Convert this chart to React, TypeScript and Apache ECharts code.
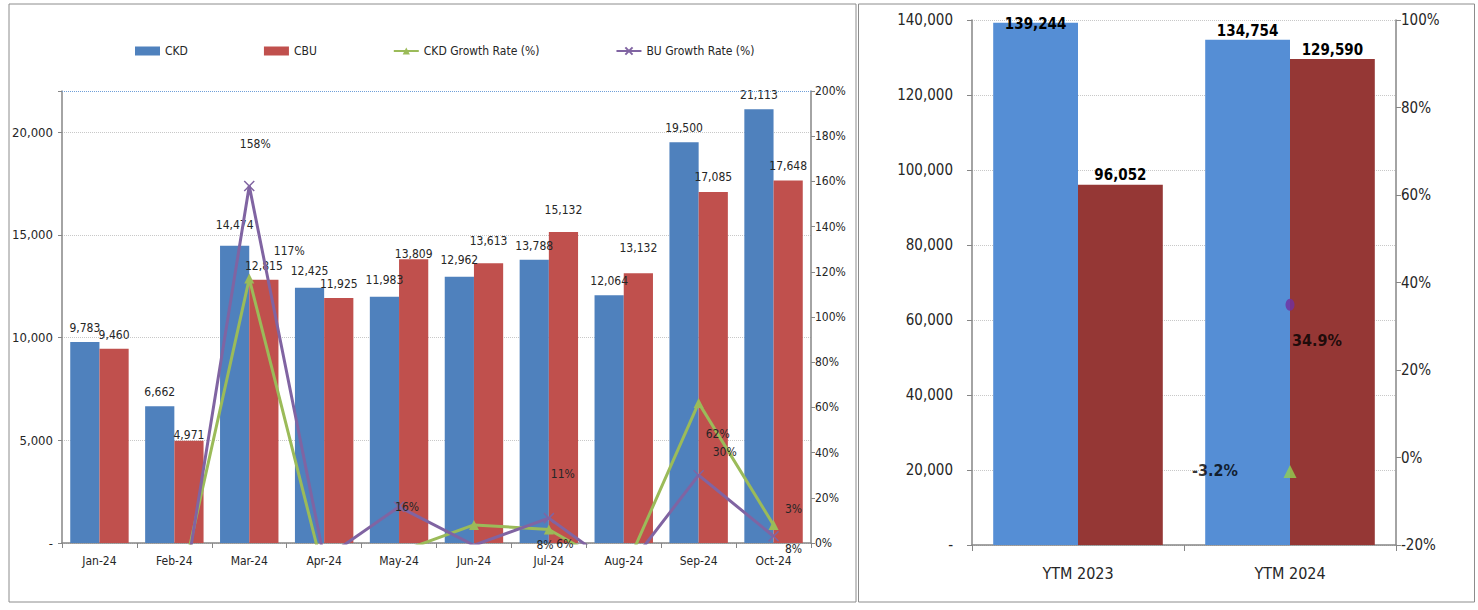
import React, { useEffect, useRef } from "react";
import * as echarts from "echarts";

const months = ["Jan-24", "Feb-24", "Mar-24", "Apr-24", "May-24", "Jun-24", "Jul-24", "Aug-24", "Sep-24", "Oct-24"];
const ckd = [9783, 6662, 14474, 12425, 11983, 12962, 13788, 12064, 19500, 21113];
const cbu = [9460, 4971, 12815, 11925, 13809, 13613, 15132, 13132, 17085, 17648];
const ckdGrowth: (number | null)[] = [null, -32, 117, -14, -4, 8, 6, -13, 62, 8];
const buGrowth: (number | null)[] = [null, -47, 158, -7, 16, -1, 11, -13, 30, 3];

const ytmCats = ["YTM 2023", "YTM 2024"];
const ytmCkd = [139244, 134754];
const ytmCbu = [96052, 129590];
const ytmCkdGrowth: (number | null)[] = [null, -3.2];
const ytmBuGrowth: (number | null)[] = [null, 34.9];

const leftTicks = { min: 0, max: 22000, interval: 5000 };
const pctTicks = { min: 0, max: 200, interval: 20 };
const ytmTicks = { min: 0, max: 140000, interval: 20000 };
const ytmPctTicks = { min: -20, max: 100, interval: 20 };

// label placement nudges (styling, not data)
const ckdLift = [0, 0, -7, -3, -3, -3, 0, 0, 0, 0];
const cbuLift = [0, 8, 0, 0, 9, -8, -8, -11, -1, 0];
const ckdGrowthLabelOffset: ([number, number] | null)[] = [null, null, [40, -28], null, null, [71, 20], [16, 15], null, [19, 31], [20, 24]];
const buGrowthLabelOffset: ([number, number] | null)[] = [null, null, [6, -42], null, [8, 0], null, [14, -44], null, [26, -23], [20, -27]];

const FONT = "'Liberation Sans Narrow', 'DejaVu Sans Condensed', 'Arial Narrow', sans-serif";
const TXT = "#262626";
const AX = "#868686";

const fmt = (v: number) => v.toLocaleString("en-US");

export default function App() {
  const ref = useRef<HTMLDivElement>(null);
  useEffect(() => {
    if (!ref.current) return;
    const chart = echarts.init(ref.current, null, { renderer: "svg" });

    const barLabel = (lifts: number[]) => (v: number, i: number) => ({
      value: v,
      label: { offset: [0, lifts[i]] },
    });

    const growthData = (vals: (number | null)[], offs: ([number, number] | null)[]) =>
      vals.map((v, i) => ({
        value: v === null ? "-" : v,
        label: offs[i] ? { show: true, offset: offs[i] } : { show: false },
      }));

    const option: any = {
      animation: false,
      backgroundColor: "#fff",
      textStyle: { fontFamily: FONT },
      graphic: [
        { type: "rect", shape: { x: 9, y: 4, width: 847, height: 598 }, style: { fill: "none", stroke: "#8c8c8c", lineWidth: 1 }, silent: true },
        { type: "rect", shape: { x: 858.5, y: 4, width: 616, height: 598 }, style: { fill: "none", stroke: "#8c8c8c", lineWidth: 1 }, silent: true },
      ],
      legend: {
        left: 135,
        top: 45,
        padding: 0,
        itemWidth: 25,
        itemHeight: 9,
        itemGap: 76,
        textStyle: { fontFamily: FONT, fontSize: 12, color: TXT },
        data: [
          { name: "CKD", icon: "rect" },
          { name: "CBU", icon: "rect" },
          { name: "CKD Growth Rate (%)" },
          { name: "BU Growth Rate (%)" },
        ],
      },
      grid: [
        { left: 62, top: 91, width: 749, height: 452 },
        { left: 972, top: 20, width: 424, height: 525 },
      ],
      xAxis: [
        {
          type: "category",
          gridIndex: 0,
          data: months,
          axisLine: { lineStyle: { color: AX, width: 1.5 } },
          axisTick: { show: true, length: 5, lineStyle: { color: AX } },
          axisLabel: { color: TXT, fontSize: 12, margin: 12, fontFamily: FONT },
        },
        {
          type: "category",
          gridIndex: 1,
          data: ytmCats,
          axisLine: { lineStyle: { color: AX, width: 1.5 } },
          axisTick: { show: true, length: 6, lineStyle: { color: AX } },
          axisLabel: { color: TXT, fontSize: 16, margin: 20, fontFamily: FONT },
        },
      ],
      yAxis: [
        {
          type: "value",
          gridIndex: 0,
          ...leftTicks,
          axisLine: { show: true, lineStyle: { color: AX, width: 1.5 } },
          axisTick: { show: true, length: 4, lineStyle: { color: AX } },
          axisLabel: {
            color: TXT,
            fontSize: 13,
            margin: 9,
            fontFamily: FONT,
            formatter: (v: number) => (v === 0 ? "-" : v > 20000 ? "" : fmt(v)),
          },
          splitLine: { show: true, lineStyle: { type: "dotted", color: "#c8c8c8" } },
        },
        {
          type: "value",
          gridIndex: 0,
          position: "right",
          ...pctTicks,
          axisLine: { show: true, lineStyle: { color: AX, width: 1.5 } },
          axisTick: { show: true, length: 4, lineStyle: { color: AX } },
          axisLabel: { color: TXT, fontSize: 12, margin: 4, fontFamily: FONT, formatter: "{value}%" },
          splitLine: { show: false },
        },
        {
          type: "value",
          gridIndex: 1,
          ...ytmTicks,
          axisLine: { show: true, lineStyle: { color: AX, width: 1.5 } },
          axisTick: { show: true, length: 5, lineStyle: { color: AX } },
          axisLabel: {
            color: TXT,
            fontSize: 15,
            margin: 19,
            fontFamily: FONT,
            formatter: (v: number) => (v === 0 ? "-" : fmt(v)),
          },
          splitLine: { show: true, lineStyle: { type: "dotted", color: "#c8c8c8" } },
        },
        {
          type: "value",
          gridIndex: 1,
          position: "right",
          ...ytmPctTicks,
          axisLine: { show: true, lineStyle: { color: AX, width: 1.5 } },
          axisTick: { show: true, length: 5, lineStyle: { color: AX } },
          axisLabel: { color: TXT, fontSize: 15, margin: 5, fontFamily: FONT, formatter: "{value}%" },
          splitLine: { show: false },
        },
      ],
      series: [
        {
          name: "CKD",
          type: "bar",
          xAxisIndex: 0,
          yAxisIndex: 0,
          barGap: "0%",
          barCategoryGap: "22%",
          itemStyle: { color: "#4F81BD" },
          data: ckd.map(barLabel(ckdLift)),
          label: { show: true, position: "top", distance: 8, color: TXT, fontSize: 12, fontFamily: FONT, formatter: (p: any) => fmt(p.value) },
        },
        {
          name: "CBU",
          type: "bar",
          xAxisIndex: 0,
          yAxisIndex: 0,
          barGap: "0%",
          barCategoryGap: "22%",
          itemStyle: { color: "#C0504D" },
          data: cbu.map(barLabel(cbuLift)),
          label: { show: true, position: "top", distance: 8, color: TXT, fontSize: 12, fontFamily: FONT, formatter: (p: any) => fmt(p.value) },
        },
        {
          name: "CKD Growth Rate (%)",
          type: "line",
          xAxisIndex: 0,
          yAxisIndex: 1,
          clip: true,
          symbol: "triangle",
          symbolSize: 10,
          lineStyle: { color: "#9BBB59", width: 3 },
          itemStyle: { color: "#9BBB59" },
          data: growthData(ckdGrowth, ckdGrowthLabelOffset),
          label: { position: "inside", color: TXT, fontSize: 12, fontFamily: FONT, formatter: (p: any) => `${p.value}%` },
          markLine: {
            silent: true,
            symbol: "none",
            label: { show: false },
            lineStyle: { type: "dotted", color: "#6f9fd8", width: 1 },
            data: [{ yAxis: 200 }],
          },
          z: 5,
        },
        {
          name: "BU Growth Rate (%)",
          type: "line",
          xAxisIndex: 0,
          yAxisIndex: 1,
          clip: true,
          symbol: "path://M0,0L10,10M10,0L0,10",
          symbolSize: 10,
          lineStyle: { color: "#8064A2", width: 3 },
          itemStyle: { color: "#8064A2", borderColor: "#8064A2", borderWidth: 1.5 },
          data: growthData(buGrowth, buGrowthLabelOffset),
          label: { position: "inside", color: TXT, fontSize: 12, fontFamily: FONT, formatter: (p: any) => `${p.value}%` },
          z: 5,
        },
        {
          name: "CKD YTM",
          type: "bar",
          xAxisIndex: 1,
          yAxisIndex: 2,
          barGap: "0%",
          barCategoryGap: "20%",
          itemStyle: { color: "#558ED5" },
          data: ytmCkd.map((v, i) => ({ value: v, label: { offset: [0, i === 0 ? 10 : 0] } })),
          label: { show: true, position: "top", distance: 1, color: "#000", fontWeight: "bold", fontSize: 15, fontFamily: FONT, formatter: (p: any) => fmt(p.value) },
        },
        {
          name: "CBU YTM",
          type: "bar",
          xAxisIndex: 1,
          yAxisIndex: 2,
          barGap: "0%",
          barCategoryGap: "20%",
          itemStyle: { color: "#953735" },
          data: ytmCbu,
          label: { show: true, position: "top", distance: 2, color: "#000", fontWeight: "bold", fontSize: 15, fontFamily: FONT, formatter: (p: any) => fmt(p.value) },
        },
        {
          name: "CKD Growth YTM",
          type: "scatter",
          xAxisIndex: 1,
          yAxisIndex: 3,
          symbol: "triangle",
          symbolSize: 13,
          itemStyle: { color: "#92D050" },
          data: ytmCkdGrowth.map((v) => (v === null ? "-" : v)),
          label: { show: true, position: "inside", offset: [-75, -1], color: "#000", fontWeight: "bold", fontSize: 16, fontFamily: FONT, formatter: (p: any) => `${p.value.toFixed(1)}%` },
          z: 6,
        },
        {
          name: "BU Growth YTM",
          type: "scatter",
          xAxisIndex: 1,
          yAxisIndex: 3,
          symbol: "circle",
          symbolSize: [9, 12],
          itemStyle: { color: "#7030A0" },
          data: ytmBuGrowth.map((v) => (v === null ? "-" : v)),
          label: { show: true, position: "inside", offset: [27, 36], color: "#000", fontWeight: "bold", fontSize: 16, fontFamily: FONT, formatter: (p: any) => `${p.value.toFixed(1)}%` },
          z: 6,
        },
      ],
    };
    chart.setOption(option);
    return () => chart.dispose();
  }, []);

  return (
    <div
      ref={ref}
      style={{ position: "fixed", left: 0, top: 0, width: 1478, height: 610, background: "#fff" }}
    />
  );
}
